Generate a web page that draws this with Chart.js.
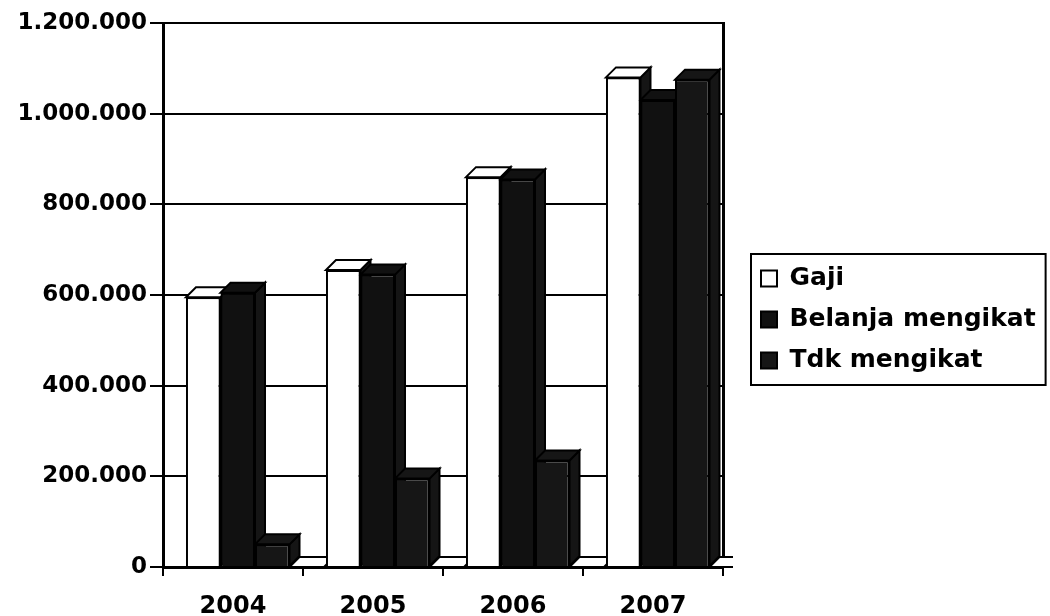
<!DOCTYPE html>
<html>
<head>
<meta charset="utf-8">
<script src="https://cdn.jsdelivr.net/npm/chart.js@4.4.1/dist/chart.umd.min.js"></script>
<style>
  html, body { margin: 0; padding: 0; background: #ffffff; }
  #wrap { width: 1050px; height: 616px; position: relative; }
</style>
</head>
<body>
<div id="wrap"><canvas id="c" width="1050" height="616"></canvas></div>
<script>
// ---- data ----
const categories = ['2004', '2005', '2006', '2007'];
const gaji = [595000, 655000, 860000, 1080000];
const belanjaMengikat = [605000, 645000, 855000, 1030000];
const tdkMengikat = [50000, 195000, 235000, 1075000];
const seriKeempat = [0, 0, 0, 0];           // unlabelled zero-height series
const seriesNames = ['Gaji', 'Belanja mengikat', 'Tdk mengikat', ''];
const yTickValues = [0, 200000, 400000, 600000, 800000, 1000000, 1200000];
const yTickLabels = ['0', '200.000', '400.000', '600.000', '800.000', '1.000.000', '1.200.000'];

// ---- style ----
const FONT = "'DejaVu Sans', Verdana, sans-serif";
const DEPTH = 10;      // pseudo 3D depth
const SHIFT = 22;      // 3D projection shift of the bar block
const SIDE = '#151515';

const bar3d = {
  id: 'bar3d',
  beforeDatasetsDraw(chart) {
    const ctx = chart.ctx, ca = chart.chartArea;
    ctx.save();
    ctx.beginPath();
    ctx.rect(ca.left, 0, ca.right - ca.left + 10, chart.height);
    ctx.clip();
    ctx.translate(SHIFT, 0);
    chart.data.datasets.forEach((ds, di) => {
      const meta = chart.getDatasetMeta(di);
      meta.data.forEach(el => {
        const p = el.getProps(['x', 'y', 'base', 'width'], true);
        const l = p.x - p.width / 2, r = p.x + p.width / 2;
        const top = Math.min(p.y, p.base), bot = Math.max(p.y, p.base);
        ctx.lineWidth = 2;
        ctx.strokeStyle = '#000';
        if (bot - top > 0.5) {
          ctx.beginPath();
          ctx.moveTo(r, top); ctx.lineTo(r + DEPTH, top - DEPTH);
          ctx.lineTo(r + DEPTH, bot - DEPTH); ctx.lineTo(r, bot); ctx.closePath();
          ctx.fillStyle = SIDE; ctx.fill(); ctx.stroke();
        }
        ctx.beginPath();
        ctx.moveTo(l, top); ctx.lineTo(l + DEPTH, top - DEPTH);
        ctx.lineTo(r + DEPTH, top - DEPTH); ctx.lineTo(r, top); ctx.closePath();
        ctx.fillStyle = ds.backgroundColor; ctx.fill(); ctx.stroke();
      });
    });
  },
  afterDatasetsDraw(chart) { chart.ctx.restore(); }
};

const legendBorder = {
  id: 'legendBorder',
  afterDraw(chart) {
    const hb = chart.legend && chart.legend.legendHitBoxes;
    if (!hb || !hb.length) return;
    let l = Infinity, t = Infinity, r = -Infinity, b = -Infinity;
    hb.forEach(h => {
      l = Math.min(l, h.left); t = Math.min(t, h.top);
      r = Math.max(r, h.left + h.width); b = Math.max(b, h.top + h.height);
    });
    const ctx = chart.ctx;
    ctx.save();
    ctx.strokeStyle = '#000'; ctx.lineWidth = 2;
    ctx.strokeRect(l - 10, t - 12, r - l + 20, b - t + 24);
    ctx.restore();
  }
};

const baseDs = { borderColor: '#000', borderWidth: 2, barPercentage: 1.0, categoryPercentage: 0.986, clip: false };

new Chart(document.getElementById('c'), {
  type: 'bar',
  data: {
    labels: categories,
    datasets: [
      Object.assign({ label: seriesNames[0], data: gaji, backgroundColor: '#ffffff' }, baseDs),
      Object.assign({ label: seriesNames[1], data: belanjaMengikat, backgroundColor: '#111111' }, baseDs),
      Object.assign({ label: seriesNames[2], data: tdkMengikat, backgroundColor: '#161616' }, baseDs),
      Object.assign({ label: seriesNames[3], data: seriKeempat, backgroundColor: '#ffffff' }, baseDs)
    ]
  },
  options: {
    responsive: false,
    animation: false,
    events: [],
    layout: { padding: { top: 23, right: 5, bottom: 0, left: 0 } },
    plugins: {
      tooltip: { enabled: false },
      legend: {
        position: 'right',
        align: 'center',
        maxWidth: 300,
        maxHeight: 564,
        labels: {
          color: '#000',
          font: { family: FONT, size: 25, weight: 'bold' },
          boxWidth: 16, boxHeight: 16, padding: 16,
          filter: item => item.text !== ''
        }
      }
    },
    scales: {
      x: {
        grid: { display: true, drawOnChartArea: false, drawTicks: true, tickLength: 9, color: '#000', lineWidth: 2, offset: true },
        border: { display: true, color: '#000', width: 3 },
        ticks: { color: '#000', font: { family: FONT, size: 24, weight: 'bold' }, padding: 16 },
        afterFit: s => { s.height = 49; }
      },
      y: {
        min: 0, max: 1200000,
        afterBuildTicks: s => { s.ticks = yTickValues.map(v => ({ value: v })); },
        grid: { color: '#000', lineWidth: 2, tickLength: 13, drawTicks: true },
        border: { display: true, color: '#000', width: 3 },
        ticks: {
          color: '#000', padding: 3,
          font: { family: FONT, size: 23, weight: 'bold' },
          callback: v => yTickLabels[yTickValues.indexOf(v)]
        },
        afterFit: s => { s.width = 163; }
      },
      y2: {
        position: 'right', min: 0, max: 1200000,
        grid: { display: false, drawTicks: false },
        border: { display: true, color: '#000', width: 3 },
        ticks: { display: false },
        afterFit: s => { s.width = 22; }
      }
    }
  },
  plugins: [bar3d, legendBorder]
});
</script>
</body>
</html>
